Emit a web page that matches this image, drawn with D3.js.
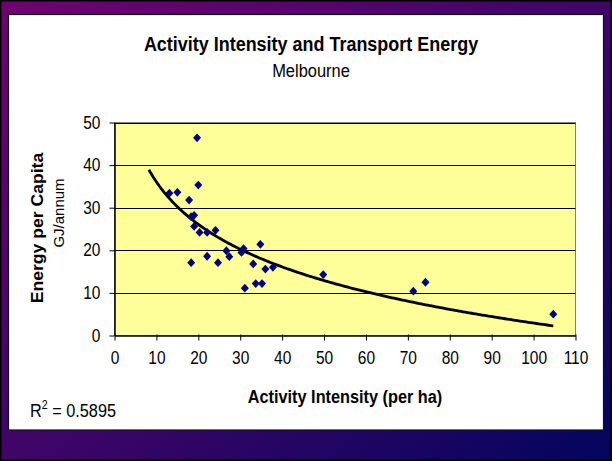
<!DOCTYPE html>
<html>
<head>
<meta charset="utf-8">
<script src="https://cdn.jsdelivr.net/npm/d3@7"></script>
<style>
  body { margin: 0; padding: 0; background: #fff; }
  svg { display: block; font-family: Arial, "Liberation Sans", sans-serif; }
</style>
</head>
<body>
<svg id="chart" width="612" height="461"></svg>
<script>
// activity intensity (per ha) for each zone
const intensity = [19.7, 20.0, 13.1, 15.0, 17.8, 18.3, 19.0, 19.0, 20.3, 22.1,
                   24.1, 34.8, 26.7, 30.8, 30.3, 18.3, 22.1, 24.7, 27.4, 33.1,
                   36.0, 37.8, 31.1, 33.7, 35.2, 49.8, 71.3, 74.2, 104.7];
// transport energy per capita (GJ/annum)
const energy = [46.4, 35.3, 33.4, 33.6, 31.8, 27.9, 28.2, 25.6, 24.2, 24.2,
                24.7, 21.4, 19.9, 20.4, 19.5, 17.1, 18.6, 17.1, 18.5, 16.8,
                15.6, 16.0, 11.1, 12.2, 12.2, 14.3, 10.4, 12.5, 5.0];
const xTicks = [0, 10, 20, 30, 40, 50, 60, 70, 80, 90, 100, 110];
const yTicks = [0, 10, 20, 30, 40, 50];
const trendRange = [8.2, 104.7];
const rSquared = "0.5895";

const svg = d3.select("#chart");
const width = 612, height = 461;
const squeeze = 0.885; // text in the original looks a bit narrow/tall

// purple background frame
const defs = svg.append("defs");
const grad = defs.append("linearGradient")
    .attr("id", "bg")
    .attr("x1", "0%").attr("y1", "0%")
    .attr("x2", "100%").attr("y2", "100%");
grad.append("stop").attr("offset", "0%").attr("stop-color", "#6e0470");
grad.append("stop").attr("offset", "55%").attr("stop-color", "#3a0566");
grad.append("stop").attr("offset", "100%").attr("stop-color", "#02055e");

svg.append("rect")
    .attr("x", 0).attr("y", 0)
    .attr("width", width).attr("height", height)
    .attr("fill", "url(#bg)")
    .attr("stroke", "#000")
    .attr("stroke-width", 3);

// white chart area
svg.append("rect")
    .attr("x", 8.5).attr("y", 14.5)
    .attr("width", 595).attr("height", 415.5)
    .attr("fill", "#fff")
    .attr("stroke", "#111")
    .attr("stroke-width", 1.2);

const plot = { left: 114.5, top: 122.5, right: 575.5, bottom: 335.5 };

const x = d3.scaleLinear().domain([0, 110]).range([plot.left, plot.right]);
const y = d3.scaleLinear().domain([0, 50]).range([plot.bottom, plot.top]);

// plot background
svg.append("rect")
    .attr("x", plot.left).attr("y", plot.top)
    .attr("width", plot.right - plot.left)
    .attr("height", plot.bottom - plot.top)
    .attr("fill", "#ffff99")
    .attr("stroke", "#808080")
    .attr("stroke-width", 1);

// gridlines
svg.append("g")
    .selectAll("line")
    .data(yTicks.filter(d => d > 0))
    .enter().append("line")
    .attr("x1", plot.left).attr("x2", plot.right)
    .attr("y1", d => Math.round(y(d)) + 0.5)
    .attr("y2", d => Math.round(y(d)) + 0.5)
    .attr("stroke", "#000")
    .attr("stroke-width", 1);

// AXES
const xAxis = svg.append("g")
    .attr("transform", `translate(0,${plot.bottom})`)
    .call(d3.axisBottom(x).tickValues(xTicks).tickSize(5).tickPadding(11).tickSizeOuter(0));
const yAxis = svg.append("g")
    .attr("transform", `translate(${plot.left},0)`)
    .call(d3.axisLeft(y).tickValues(yTicks).tickSize(5).tickPadding(11).tickSizeOuter(0));

[xAxis, yAxis].forEach(a => {
    a.select(".domain").attr("stroke", "#000").attr("stroke-width", 1.5);
    a.selectAll(".tick line").attr("stroke", "#000").attr("stroke-width", 1);
    a.selectAll(".tick text")
        .attr("fill", "#000")
        .attr("transform", `scale(${squeeze},1)`)
        .style("font-size", "17.5px")
        .style("font-family", "Arial, 'Liberation Sans', sans-serif");
});
xAxis.selectAll(".tick line").attr("y1", -1);
xAxis.selectAll(".tick text").attr("dy", "0.72em");

// logarithmic trendline fitted to the points
const lnX = intensity.map(v => Math.log(v));
const mx = d3.mean(lnX), my = d3.mean(energy);
const slope = d3.sum(lnX, (v, i) => (v - mx) * (energy[i] - my)) /
              d3.sum(lnX, v => (v - mx) * (v - mx));
const icept = my - slope * mx;
const trendX = d3.range(trendRange[0], trendRange[1], 0.5).concat([trendRange[1]]);

svg.append("path")
    .datum(trendX)
    .attr("fill", "none")
    .attr("stroke", "#000")
    .attr("stroke-width", 2.8)
    .attr("d", d3.line()
        .x(d => x(d))
        .y(d => y(slope * Math.log(d) + icept)));

// DATA POINTS (diamonds)
svg.append("g")
    .selectAll("path")
    .data(intensity)
    .enter().append("path")
    .attr("transform", (d, i) => `translate(${x(d)},${y(energy[i])}) scale(1,1.1) rotate(45)`)
    .attr("d", d3.symbol().type(d3.symbolSquare).size(32))
    .attr("fill", "#000080");

// LABELS & TITLES
function label(px, py, size, bold, txt, rot, sq = squeeze) {
    const t = svg.append("text")
        .attr("transform", `translate(${px},${py})` + (rot ? " rotate(-90)" : "") +
              (rot ? ` scale(1,${sq})` : ` scale(${sq},1)`))
        .attr("text-anchor", "middle")
        .style("font-size", size + "px")
        .attr("fill", "#000");
    if (bold) t.style("font-weight", "bold");
    if (txt) t.text(txt);
    return t;
}

label(311, 51, 20.3, true, "Activity Intensity and Transport Energy");
label(311, 77, 18.6, false, "Melbourne");
label((plot.left + plot.right) / 2, 403, 18.4, true, "Activity Intensity (per ha)");

const yMid = (plot.top + plot.bottom) / 2;
label(43, yMid - 1, 17.6, true, "Energy per Capita", true);
label(64, 213, 15, false, "GJ/annum", true, 0.95);

const r2 = label(30, 417, 18.4, false, null).attr("text-anchor", "start");
r2.append("tspan").text("R");
r2.append("tspan").attr("dy", -8).style("font-size", "12px").text("2");
r2.append("tspan").attr("dy", 8).text(" = " + rSquared);
</script>
</body>
</html>
